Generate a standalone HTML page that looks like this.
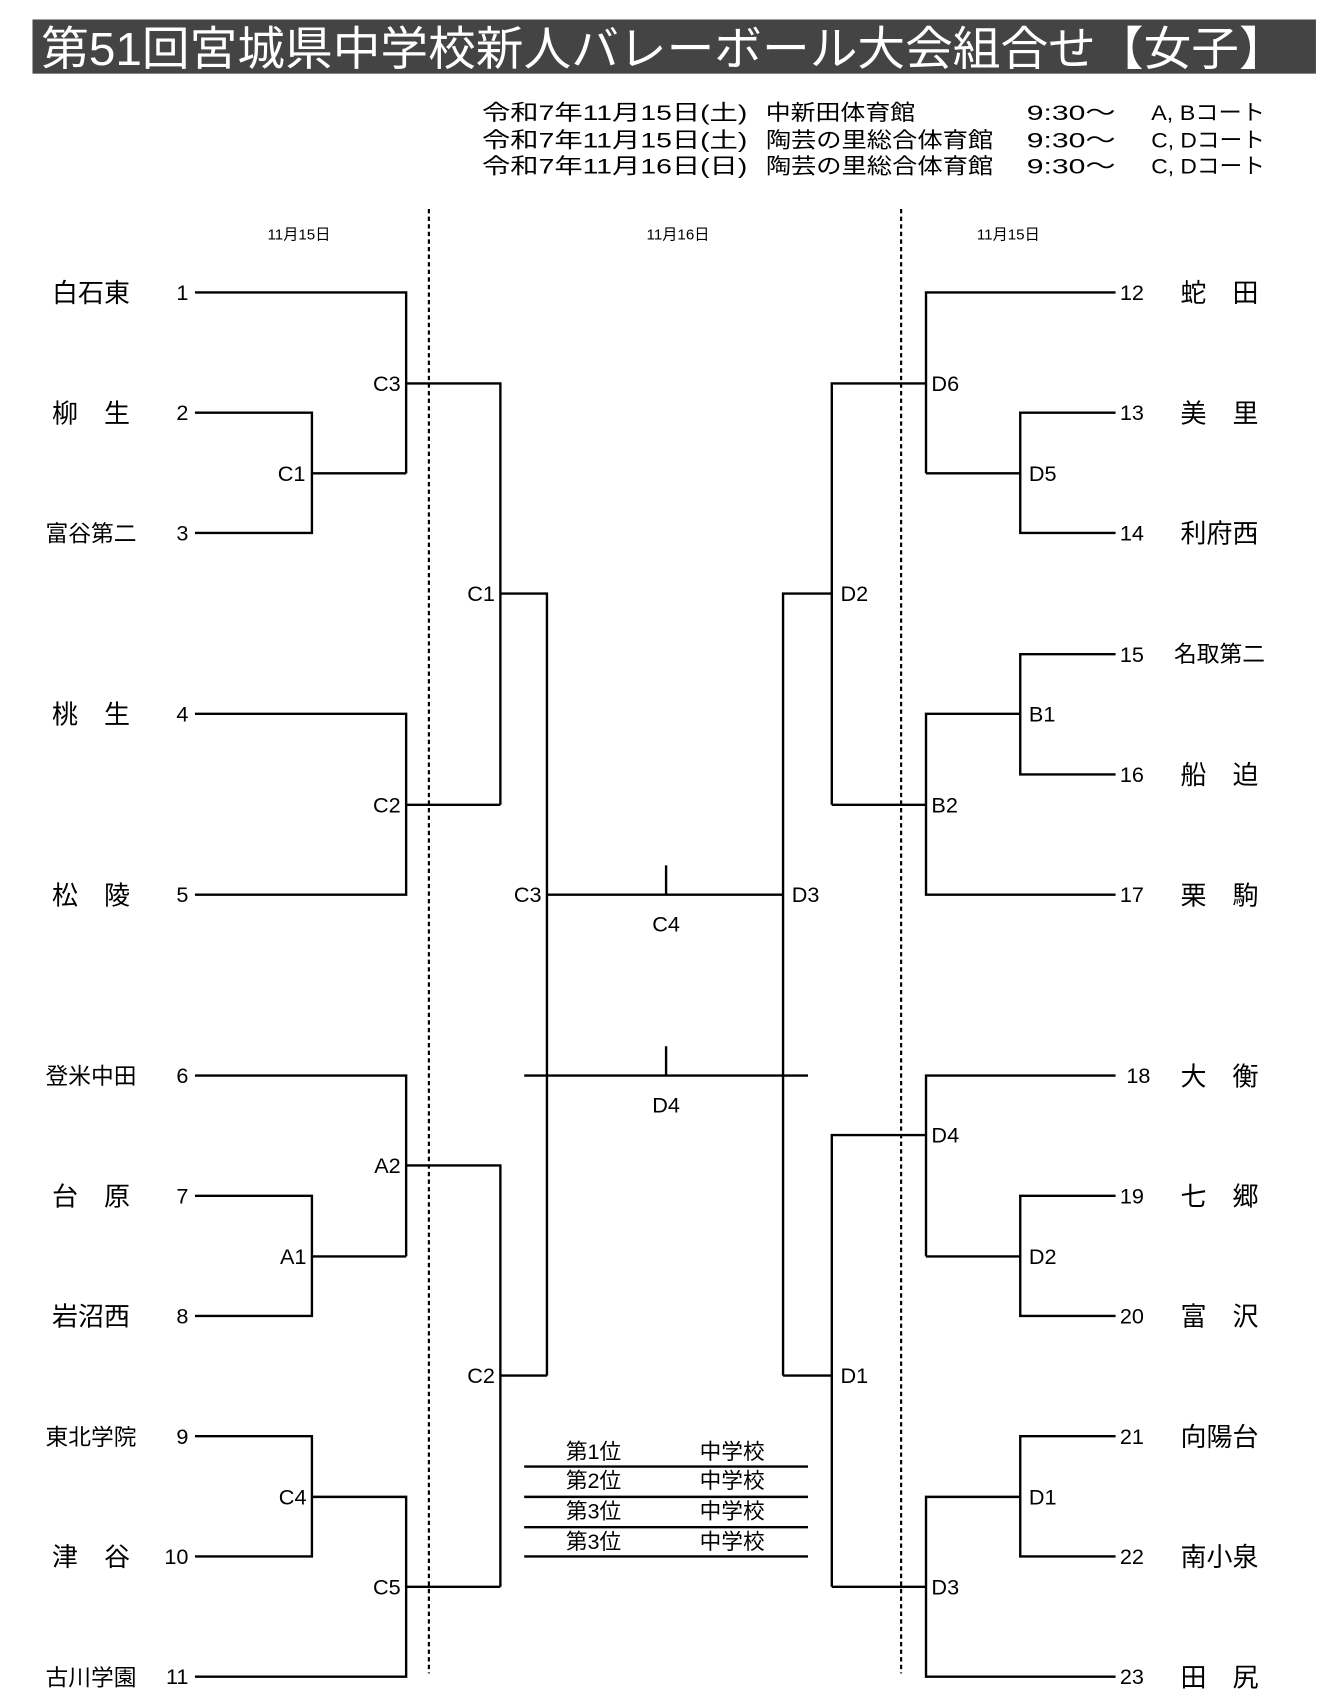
<!DOCTYPE html>
<html><head><meta charset="utf-8"><style>
html,body{margin:0;padding:0;background:#fff;}
svg{display:block;}
text{font-family:"Liberation Sans","Noto Sans CJK JP",sans-serif;fill:#000;}
.n{font-size:24px;text-anchor:middle;}
.s{font-size:21px;text-anchor:middle;}
.num{font-size:20px;}
.lb{font-size:20px;}
</style></head><body>
<svg width="1343" height="1694" viewBox="0 0 1240 1564" preserveAspectRatio="none" xmlns="http://www.w3.org/2000/svg">
<rect x="30" y="18" width="1185" height="50" fill="#444"/>
<text x="38" y="60" style="font-size:43px;fill:#fff" textLength="1150" lengthAdjust="spacingAndGlyphs">第51回宮城県中学校新人バレーボール大会組合せ【女子】</text>
<g style="font-size:20px">
<text x="445" y="111" textLength="245" lengthAdjust="spacingAndGlyphs">令和7年11月15日(土)</text><text x="707" y="111" textLength="138" lengthAdjust="spacingAndGlyphs">中新田体育館</text><text x="948" y="111" textLength="82" lengthAdjust="spacingAndGlyphs">9:30～</text><text x="1063" y="111" textLength="105" lengthAdjust="spacingAndGlyphs">A, Bコート</text>
<text x="445" y="136" textLength="245" lengthAdjust="spacingAndGlyphs">令和7年11月15日(土)</text><text x="707" y="136" textLength="210" lengthAdjust="spacingAndGlyphs">陶芸の里総合体育館</text><text x="948" y="136" textLength="82" lengthAdjust="spacingAndGlyphs">9:30～</text><text x="1063" y="136" textLength="105" lengthAdjust="spacingAndGlyphs">C, Dコート</text>
<text x="445" y="160" textLength="245" lengthAdjust="spacingAndGlyphs">令和7年11月16日(日)</text><text x="707" y="160" textLength="210" lengthAdjust="spacingAndGlyphs">陶芸の里総合体育館</text><text x="948" y="160" textLength="82" lengthAdjust="spacingAndGlyphs">9:30～</text><text x="1063" y="160" textLength="105" lengthAdjust="spacingAndGlyphs">C, Dコート</text>
</g>
<g style="font-size:14px;text-anchor:middle"><text x="276" y="221">11月15日</text><text x="626" y="221">11月16日</text><text x="931" y="221">11月15日</text></g>
<g stroke="#000" stroke-width="2" stroke-dasharray="4,3"><line x1="396" y1="193" x2="396" y2="1545"/><line x1="832" y1="193" x2="832" y2="1545"/></g>
<g stroke="#000" stroke-width="2.2" fill="none">
<path d="M180 270H375V437M180 381H288V492H180M288 437H375M375 354H462V743M180 659H375V826H180M375 743H462M462 548H505V1270"/>
<path d="M180 993H375V1160M180 1104H288V1215H180M288 1160H375M375 1076H462V1465M180 1326H288V1437H180M288 1382H375V1548H180M375 1465H462M462 1270H505"/>
<path d="M505 826H723M615 799V826M484 993H746M615 966V993"/>
<path d="M1030 270H855V437M1030 381H942V492H1030M942 437H855M855 354H768V743M1030 604H942V715H1030M942 659H855V826H1030M855 743H768M768 548H723V1270"/>
<path d="M1030 993H855V1160M1030 1104H942V1215H1030M942 1160H855M855 1048H768V1465M1030 1326H942V1437H1030M942 1382H855V1548H1030M855 1465H768M768 1270H723"/>
<path d="M484 1354H746M484 1382H746M484 1410H746M484 1437H746"/>
</g>
<text class="n" x="84" y="279">白石東</text>
<text class="n" x="84" y="390">柳　生</text>
<text class="s" x="84" y="500">富谷第二</text>
<text class="n" x="84" y="668">桃　生</text>
<text class="n" x="84" y="835">松　陵</text>
<text class="s" x="84" y="1001">登米中田</text>
<text class="n" x="84" y="1113">台　原</text>
<text class="n" x="84" y="1224">岩沼西</text>
<text class="s" x="84" y="1334">東北学院</text>
<text class="n" x="84" y="1446">津　谷</text>
<text class="s" x="84" y="1556">古川学園</text>
<g class="num" style="text-anchor:end">
<text x="174" y="277">1</text><text x="174" y="388">2</text><text x="174" y="499">3</text><text x="174" y="666">4</text><text x="174" y="833">5</text><text x="174" y="1000">6</text><text x="174" y="1111">7</text><text x="174" y="1222">8</text><text x="174" y="1333">9</text><text x="174" y="1444">10</text><text x="174" y="1555">11</text>
</g>
<g class="num">
<text x="1034" y="277">12</text><text x="1034" y="388">13</text><text x="1034" y="499">14</text><text x="1034" y="611">15</text><text x="1034" y="722">16</text><text x="1034" y="833">17</text><text x="1040" y="1000">18</text><text x="1034" y="1111">19</text><text x="1034" y="1222">20</text><text x="1034" y="1333">21</text><text x="1034" y="1444">22</text><text x="1034" y="1555">23</text>
</g>
<text class="n" x="1126" y="279">蛇　田</text>
<text class="n" x="1126" y="390">美　里</text>
<text class="n" x="1126" y="501">利府西</text>
<text class="s" x="1126" y="611">名取第二</text>
<text class="n" x="1126" y="724">船　迫</text>
<text class="n" x="1126" y="835">栗　駒</text>
<text class="n" x="1126" y="1002">大　衡</text>
<text class="n" x="1126" y="1113">七　郷</text>
<text class="n" x="1126" y="1224">富　沢</text>
<text class="n" x="1126" y="1335">向陽台</text>
<text class="n" x="1126" y="1446">南小泉</text>
<text class="n" x="1126" y="1557">田　尻</text>
<g class="lb" style="text-anchor:end">
<text x="370" y="361">C3</text><text x="282" y="444">C1</text><text x="370" y="750">C2</text><text x="457" y="555">C1</text>
<text x="370" y="1083">A2</text><text x="283" y="1167">A1</text><text x="283" y="1389">C4</text><text x="370" y="1472">C5</text><text x="457" y="1277">C2</text>
<text x="500" y="833">C3</text>
</g>
<g class="lb">
<text x="860" y="361">D6</text><text x="950" y="444">D5</text><text x="950" y="666">B1</text><text x="860" y="750">B2</text><text x="776" y="555">D2</text>
<text x="860" y="1055">D4</text><text x="950" y="1167">D2</text><text x="950" y="1389">D1</text><text x="860" y="1472">D3</text><text x="776" y="1277">D1</text>
<text x="731" y="833">D3</text>
</g>
<g class="lb" style="text-anchor:middle"><text x="615" y="860">C4</text><text x="615" y="1027">D4</text>
<text x="548" y="1347">第1位</text><text x="676" y="1347">中学校</text>
<text x="548" y="1374">第2位</text><text x="676" y="1374">中学校</text>
<text x="548" y="1402">第3位</text><text x="676" y="1402">中学校</text>
<text x="548" y="1430">第3位</text><text x="676" y="1430">中学校</text>
</g>
</svg>
</body></html>
